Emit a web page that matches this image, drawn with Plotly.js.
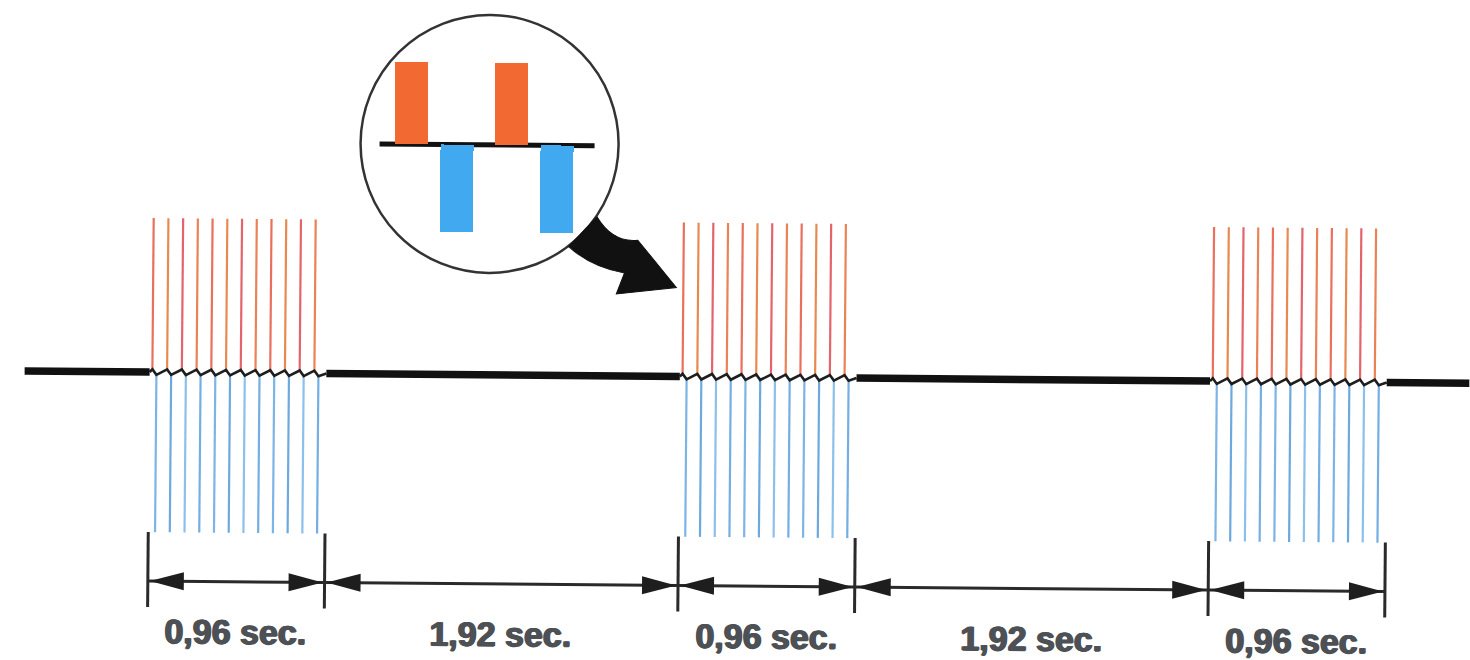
<!DOCTYPE html>
<html>
<head>
<meta charset="utf-8">
<script src="https://cdn.plot.ly/plotly-3.0.1.min.js"></script>
<style>
  html, body { margin: 0; padding: 0; background: #ffffff; overflow: hidden; }
  #chart { width: 1470px; height: 660px; transform: rotate(0.49deg); transform-origin: 735px 330px; }
</style>
</head>
<body>
<div id="chart"></div>
<script>
// ---------------- data ----------------
const burstStarts = [0, 2.88, 5.76];                 // s
const intervalEdges = [0, 0.96, 2.88, 3.84, 5.76, 6.72]; // s
const intervalLabels = ['0,96 sec.', '1,92 sec.', '0,96 sec.', '1,92 sec.', '0,96 sec.'];
const pulseOffsets = [0, 0.08, 0.16, 0.24, 0.32, 0.40, 0.48, 0.56, 0.64, 0.72, 0.80, 0.88]; // s within burst
const positivePhaseDelay = 0.015;  // s
const negativePhaseDelay = 0.037;  // s
const positiveAmplitude = 1.0;
const negativeAmplitude = -1.04;
// magnified view (units: one pulse period)
const zoomPhaseStart = [0, 0.46, 1.0, 1.46];
const zoomPhaseAmp = [1, -1.07, 1, -1.07];
const zoomPhaseWidth = 0.33;

// ---------------- styles ----------------
const W = 1470, H = 660;
const redPalette = ['#e9705c', '#e88a50', '#e4646c', '#ea8256'];
const bluePalette = ['#7db4e6', '#6ea9de', '#8cc0ea', '#74aee2'];
const ink = '#1e1e1e';
const labelColor = '#4d5055';
const pxPerSec = 184.1, x0px = 150;
const y0px = 377, pxPerUnit = 154;
const xRange = [-x0px / pxPerSec, (W - x0px) / pxPerSec];
const yRange = [(y0px - H) / pxPerUnit, y0px / pxPerUnit];
const px = v => v / W;
const py = v => 1 - v / H;

const traces = [];

// pulse lines
for (let c = 0; c < 4; c++) {
  const rx = [], ry = [], bx = [], by = [];
  burstStarts.forEach(s => {
    pulseOffsets.forEach((o, k) => {
      if (k % 4 !== c) return;
      const tr = s + o + positivePhaseDelay;
      const tb = s + o + negativePhaseDelay;
      rx.push(tr, tr, null); ry.push(0.015, positiveAmplitude, null);
      bx.push(tb, tb, null); by.push(-0.02, negativeAmplitude, null);
    });
  });
  traces.push({type: 'scatter', mode: 'lines', x: rx, y: ry, line: {color: redPalette[c], width: 2.2}, hoverinfo: 'skip'});
  traces.push({type: 'scatter', mode: 'lines', x: bx, y: by, line: {color: bluePalette[c], width: 2.2}, hoverinfo: 'skip'});
}

// zigzag baseline inside bursts
{
  const zx = [], zy = [];
  burstStarts.forEach((s, i) => {
    zx.push(s); zy.push(0);
    pulseOffsets.forEach(o => {
      zx.push(s + o + positivePhaseDelay); zy.push(0.018);
      zx.push(s + o + negativePhaseDelay); zy.push(-0.018);
    });
    zx.push(intervalEdges[2 * i + 1]); zy.push(0);
    zx.push(null); zy.push(null);
  });
  traces.push({type: 'scatter', mode: 'lines', x: zx, y: zy, line: {color: ink, width: 2.6}, hoverinfo: 'skip'});
}

// thick baseline between bursts
{
  const bx = [(25 - x0px) / pxPerSec, intervalEdges[0], null];
  for (let i = 1; i < intervalEdges.length - 1; i += 2) {
    bx.push(intervalEdges[i], intervalEdges[i + 1], null);
  }
  bx.push(intervalEdges[intervalEdges.length - 1], xRange[1] + 0.5);
  traces.push({type: 'scatter', mode: 'lines', x: bx, y: bx.map(v => v === null ? null : 0),
    line: {color: '#111111', width: 7.5}, hoverinfo: 'skip'});
}

// dimension ticks
const tickTop = -(537 - y0px) / pxPerUnit, tickBot = -(612 - y0px) / pxPerUnit;
const arrowY = -(586 - y0px) / pxPerUnit;
const labelY = -(636 - y0px) / pxPerUnit;
{
  const tx = [], ty = [];
  intervalEdges.forEach(e => { tx.push(e, e, null); ty.push(tickTop, tickBot, null); });
  traces.push({type: 'scatter', mode: 'lines', x: tx, y: ty, line: {color: '#2a2a2a', width: 3}, hoverinfo: 'skip'});
  const sx = [], sy = [];
  for (let i = 0; i < intervalEdges.length - 1; i++) {
    sx.push(intervalEdges[i], intervalEdges[i + 1], null); sy.push(arrowY, arrowY, null);
  }
  traces.push({type: 'scatter', mode: 'lines', x: sx, y: sy, line: {color: '#2a2a2a', width: 3}, hoverinfo: 'skip'});
}

// magnified view bars
traces.push({
  type: 'bar', xaxis: 'x2', yaxis: 'y2',
  x: zoomPhaseStart.map(s => s + zoomPhaseWidth / 2),
  y: zoomPhaseAmp,
  width: zoomPhaseStart.map(() => zoomPhaseWidth),
  marker: {color: zoomPhaseAmp.map(a => a > 0 ? '#f26a32' : '#41a9ef'), line: {width: 0}},
  hoverinfo: 'skip'
});

// shapes
const shapes = [];
const headLen = 34 / pxPerSec, headHalf = 9 / pxPerUnit, gap = 2 / pxPerSec;
for (let i = 0; i < intervalEdges.length - 1; i++) {
  const a = intervalEdges[i] + gap, b = intervalEdges[i + 1] - gap;
  shapes.push({type: 'path', xref: 'x', yref: 'y', fillcolor: ink, line: {width: 0},
    path: `M${a},${arrowY} L${a + headLen},${arrowY + headHalf} L${a + headLen},${arrowY - headHalf} Z`});
  shapes.push({type: 'path', xref: 'x', yref: 'y', fillcolor: ink, line: {width: 0},
    path: `M${b},${arrowY} L${b - headLen},${arrowY + headHalf} L${b - headLen},${arrowY - headHalf} Z`});
}
// dashed baseline in magnifier
shapes.push({type: 'line', xref: 'x2', yref: 'y2', layer: 'below', x0: -0.15, x1: 2.0, y0: 0, y1: 0,
  line: {color: '#111111', width: 5}});
// magnifier circle
shapes.push({type: 'circle', xref: 'paper', yref: 'paper',
  x0: px(359), x1: px(617), y0: py(275), y1: py(17), line: {color: '#333333', width: 2.5}});
// curved pointer arrow
shapes.push({type: 'path', xref: 'paper', yref: 'paper', fillcolor: '#111111', line: {color: '#111111', width: 1},
  path: `M${px(596)},${py(218)} Q${px(612)},${py(244)} ${px(637)},${py(241)} L${px(676)},${py(288)} ` +
        `L${px(616)},${py(295)} L${px(624)},${py(274)} Q${px(590)},${py(268)} ${px(568)},${py(248)} Z`});

// labels
const annotations = intervalLabels.map((t, i) => ({
  x: (intervalEdges[i] + intervalEdges[i + 1]) / 2, y: labelY, xref: 'x', yref: 'y',
  text: t, showarrow: false, xanchor: 'center', yanchor: 'middle',
  font: {family: 'Liberation Sans, Arial, sans-serif', size: 34, color: labelColor, weight: 'bold',
         shadow: `0.9px 0 0 ${labelColor}, -0.9px 0 0 ${labelColor}, 0 0.7px 0 ${labelColor}`}
}));

const axisOff = {visible: false, showgrid: false, zeroline: false, showticklabels: false, fixedrange: true};
const layout = {
  width: W, height: H,
  margin: {l: 0, r: 0, t: 0, b: 0, pad: 0},
  paper_bgcolor: '#ffffff', plot_bgcolor: 'rgba(0,0,0,0)',
  showlegend: false,
  xaxis: Object.assign({}, axisOff, {range: xRange, domain: [0, 1]}),
  yaxis: Object.assign({}, axisOff, {range: yRange, domain: [0, 1]}),
  xaxis2: Object.assign({}, axisOff, {range: [(357 - 393) / 100, (617 - 393) / 100], domain: [px(357), px(617)], anchor: 'y2'}),
  yaxis2: Object.assign({}, axisOff, {range: [-(274 - 147) / 82, (147 - 18) / 82], domain: [py(274), py(18)], anchor: 'x2'}),
  bargap: 0,
  shapes: shapes,
  annotations: annotations
};

Plotly.newPlot('chart', traces, layout, {staticPlot: true, displayModeBar: false});
</script>
</body>
</html>
